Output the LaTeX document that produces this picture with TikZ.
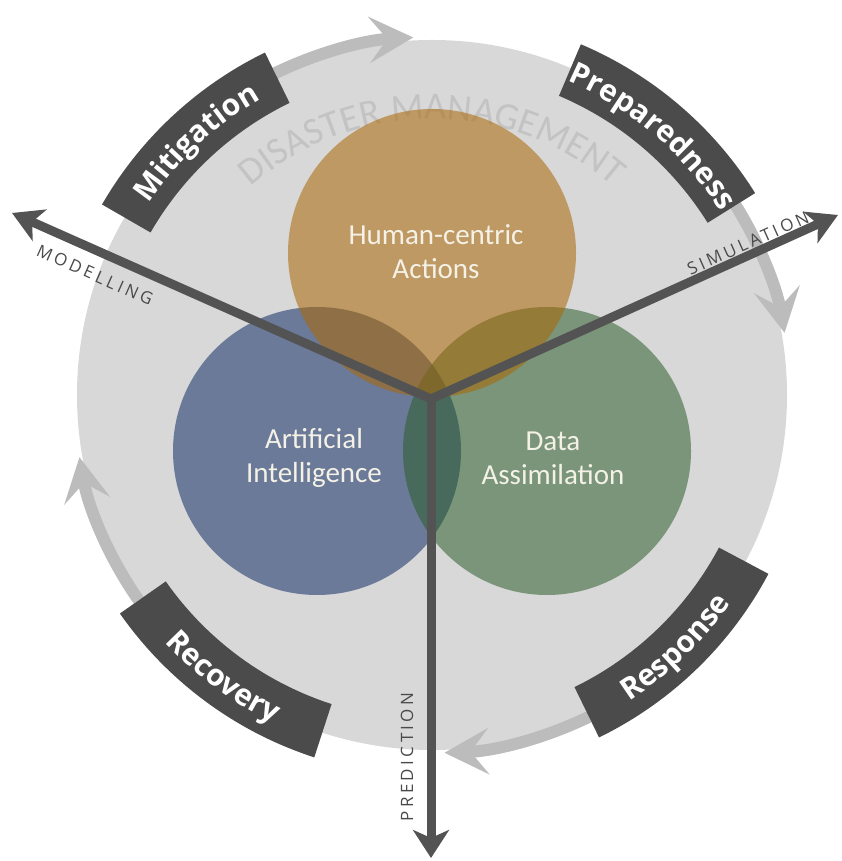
\documentclass[tikz,border=0pt]{standalone}
\usepackage{fontspec}
\usetikzlibrary{arrows.meta,decorations.text}
\newfontfamily\osfam{Open Sans}
\newfontfamily\osspaced{Open Sans}[LetterSpace=20]
\newfontfamily\carlfam{Carlito}
\newfontfamily\carlspaced{Carlito}[LetterSpace=4]
\definecolor{diskc}{HTML}{D8D8D8}
\definecolor{boxc}{HTML}{4B4B4B}
\definecolor{axisc}{HTML}{535353}
\definecolor{axtext}{HTML}{4A4A4A}
\definecolor{ringc}{HTML}{BCBCBC}
\definecolor{tanc}{RGB}{171,103,3}
\definecolor{bluec}{RGB}{18,45,100}
\definecolor{greenc}{RGB}{45,94,45}
\definecolor{creamc}{HTML}{F4F1E6}
\definecolor{dmc}{HTML}{C3C3C4}
\newcommand{\boxlab}{\osfam\bfseries\fontsize{30}{30}\selectfont}
\newcommand{\dmlab}{\carlspaced\fontsize{38}{38}\selectfont}
\begin{document}
\begin{tikzpicture}[x=1pt,y=1pt,
  disk/.style={circle, fill=diskc, minimum size=710pt, inner sep=0pt},
  venn/.style={circle, minimum size=288pt, inner sep=0pt, fill opacity=0.55},
  vtext/.style={text=creamc, font=\carlfam\fontsize{29}{34}\selectfont, align=center},
  phasebox/.style={fill=boxc},
  ringarrow/.style={draw=ringc, line width=12pt, -{Stealth[length=44pt,width=46pt,inset=18pt]}},
  axisarrow/.style={draw=axisc, line width=9pt},
  axislab/.style={text=axtext, font=\osspaced\fontsize{17}{17}\selectfont, inner sep=0pt},
  phaselab/.style={decorate, decoration={text along path, text align=center, text color=white, text={|\boxlab|#1}}}
]
\useasboundingbox (0,0) rectangle (841,861);
\coordinate (C) at (432,466);
\node[disk] (dk) at (C) {};

% cycle arrows
\draw[ringarrow] ([shift={(116:358)}]C) arc[start angle=116, end angle=93, radius=358];
\draw[ringarrow] ([shift={(32:358)}]C) arc[start angle=32, end angle=10, radius=358];
\draw[ringarrow] ([shift={(-64:358)}]C) arc[start angle=-64, end angle=-88, radius=358];
\draw[ringarrow] ([shift={(215:358)}]C) arc[start angle=215, end angle=190, radius=358];

% phase boxes
\foreach \a/\b in {116/150, 32/67, -64/-28, 215/252}{
  \fill[phasebox] ([shift={(\a:381)}]C) arc[start angle=\a, end angle=\b, radius=381]
    -- ([shift={(\b:325)}]C) arc[start angle=\b, end angle=\a, radius=325] -- cycle;
}
\path[phaselab=Mitigation] ([shift={(151:342)}]C) arc[start angle=151, end angle=115, radius=342];
\path[phaselab=Preparedness] ([shift={(68:342)}]C) arc[start angle=68, end angle=31, radius=342];
\path[phaselab=Response] ([shift={(-65:364)}]C) arc[start angle=-65, end angle=-27, radius=364];
\path[phaselab=Recovery] ([shift={(214:364)}]C) arc[start angle=214, end angle=253, radius=364];

% title on arc
\path[decorate, decoration={text along path, text align=center, text color=dmc, text={|\dmlab|DISASTER MANAGEMENT}}]
  ([shift={(138:276)}]C) arc[start angle=138, end angle=42, radius=276];

% venn circles
\node[venn, fill=bluec] (ai) at (317,410) {};
\node[venn, fill=greenc] (da) at (547,410) {};
\node[venn, fill=tanc] (hc) at (432,608) {};
\node[vtext] (hct) at (436,609) {Human-centric\\Actions};
\node[vtext] (ait) at (314,403) {Artificial\\Intelligence};
\node[vtext] (dat) at (553,403) {Data\\Assimilation};

% axes
\coordinate (O) at (431,462);
\coordinate (tipM) at (12,648);
\coordinate (tipS) at (838,646);
\coordinate (tipP) at (431,3);
\draw[axisarrow, line join=miter, {Stealth[length=30pt,width=34pt,inset=8pt]}-{Stealth[length=30pt,width=34pt,inset=8pt]}] (tipM) -- (O) -- (tipS);
\draw[axisarrow, -{Stealth[length=28pt,width=36pt,inset=8pt]}] ([yshift=2pt]O) -- (tipP);
\node[axislab, rotate=-24] (lm) at (95,586) {MODELLING};
\node[axislab, rotate=24] (ls) at (748,618) {SIMULATION};
\node[axislab, rotate=90] (lp) at (407,104) {PREDICTION};
\end{tikzpicture}
\end{document}
